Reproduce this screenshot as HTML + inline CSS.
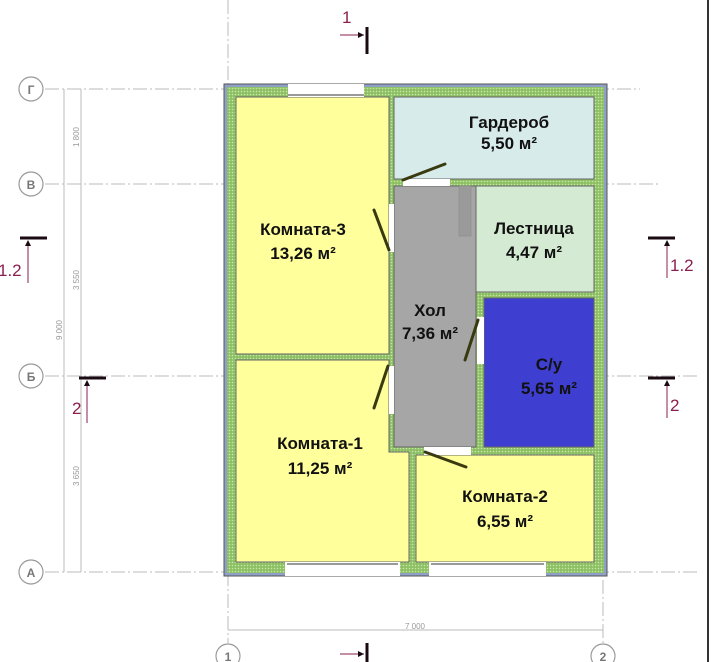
<!DOCTYPE html>
<html><head><meta charset="utf-8"><style>
html,body{margin:0;padding:0;background:#fff;}
svg{display:block}
text{font-family:"Liberation Sans","DejaVu Sans",sans-serif}
.lbl{font-weight:bold;font-size:17px;fill:#111;text-anchor:middle}
.dim{font-size:8px;fill:#999}
.sec{font-size:17px;fill:#8a1f4f}
.ax{font-size:12px;font-weight:bold;fill:#777;text-anchor:middle}
</style></head><body>
<svg width="713" height="662" viewBox="0 0 713 662" xmlns="http://www.w3.org/2000/svg">
<defs>
<pattern id="g" width="3" height="3" patternUnits="userSpaceOnUse">
<rect width="3" height="3" fill="#8cc063"/><circle cx="1.5" cy="1.5" r="0.8" fill="#c8e6a8"/>
</pattern>
</defs>
<g stroke="#bbb" stroke-width="1" stroke-dasharray="14,3,2,3" fill="none">
<line x1="45" y1="89" x2="640" y2="89"/>
<line x1="45" y1="184" x2="660" y2="184"/>
<line x1="45" y1="376" x2="700" y2="376"/>
<line x1="45" y1="572" x2="700" y2="572"/>
<line x1="228" y1="0" x2="228" y2="643"/>
<line x1="603" y1="580" x2="603" y2="643"/>
</g>
<g stroke="#bbb" stroke-width="1">
<line x1="64" y1="89" x2="64" y2="572"/>
<line x1="81" y1="89" x2="81" y2="572"/>
<line x1="228" y1="630" x2="603" y2="630"/>
</g>
<text class="dim" transform="translate(79,137) rotate(-90)" text-anchor="middle">1 800</text>
<text class="dim" transform="translate(79,280) rotate(-90)" text-anchor="middle">3 550</text>
<text class="dim" transform="translate(62,330) rotate(-90)" text-anchor="middle">9 000</text>
<text class="dim" transform="translate(79,476) rotate(-90)" text-anchor="middle">3 650</text>
<text class="dim" x="415" y="629" text-anchor="middle">7 000</text>
<g fill="#fff" stroke="#999" stroke-width="1.2">
<circle cx="31" cy="89" r="12"/><circle cx="31" cy="184" r="12"/>
<circle cx="31" cy="376" r="12"/><circle cx="31" cy="572" r="12"/>
<circle cx="228" cy="656" r="12"/><circle cx="603" cy="656" r="12"/>
</g>
<text class="ax" x="31" y="94">Г</text><text class="ax" x="31" y="189">В</text>
<text class="ax" x="31" y="381">Б</text><text class="ax" x="31" y="577">А</text>
<text class="ax" x="228" y="661">1</text><text class="ax" x="603" y="661">2</text>
<g stroke="#8a1f4f" stroke-width="1" fill="none">
<line x1="340" y1="35" x2="364" y2="35"/>
<line x1="28" y1="242" x2="28" y2="283"/>
<line x1="87" y1="382" x2="87" y2="423"/>
<line x1="667" y1="242" x2="667" y2="278"/>
<line x1="667" y1="382" x2="667" y2="418"/>
<line x1="340" y1="654" x2="364" y2="654"/>
</g>
<g fill="#1a0a12">
<polygon points="364,35 358,32 358,38"/>
<polygon points="28,240 25,246 31,246"/>
<polygon points="87,380 84,386 90,386"/>
<polygon points="667,240 664,246 670,246"/>
<polygon points="667,380 664,386 670,386"/>
<polygon points="364,654 358,651 358,657"/>
</g>
<g stroke="#1a0a12" stroke-width="3">
<line x1="367" y1="27" x2="367" y2="54"/>
<line x1="20" y1="238" x2="47" y2="238"/>
<line x1="79" y1="378" x2="106" y2="378"/>
<line x1="648" y1="238" x2="675" y2="238"/>
<line x1="648" y1="378" x2="675" y2="378"/>
<line x1="367" y1="643" x2="367" y2="662"/>
</g>
<text class="sec" x="342" y="23">1</text>
<text class="sec" x="-2" y="276">1.2</text>
<text class="sec" x="72" y="414">2</text>
<text class="sec" x="670" y="271">1.2</text>
<text class="sec" x="670" y="411">2</text>
<line x1="708" y1="0" x2="708" y2="662" stroke="#333" stroke-width="2"/>
<rect x="224" y="84" width="383" height="492" fill="#8ea0c8" stroke="#555" stroke-width="1"/>
<rect x="227" y="87" width="377" height="486" fill="url(#g)"/>
<g stroke="#666" stroke-width="1">
<rect x="236" y="97" width="153" height="257" fill="#ffff9c"/>
<rect x="394" y="97" width="200" height="82" fill="#d8ebeb"/>
<rect x="394" y="186" width="82" height="261" fill="#a6a6a6"/>
<rect x="476" y="186" width="118" height="106" fill="#d4ead2"/>
<rect x="484" y="298" width="110" height="149" fill="#3e3ed0"/>
<polygon points="236,360 389,360 389,452 409,452 409,562 236,562" fill="#ffff9c"/>
<rect x="416" y="455" width="178" height="107" fill="#ffff9c"/>
</g>
<rect x="459" y="186" width="12" height="50" fill="#9a9a9a" stroke="#888" stroke-width="0.5"/>
<g fill="#fff">
<rect x="288" y="84" width="76" height="13"/>
<rect x="285" y="562" width="115" height="14"/>
<rect x="429" y="562" width="117" height="14"/>
<rect x="403" y="179" width="47" height="7"/>
<rect x="389" y="204" width="5" height="48"/>
<rect x="389" y="366" width="5" height="48"/>
<rect x="477" y="317" width="7" height="47"/>
<rect x="424" y="447" width="47" height="8"/>
</g>
<g stroke="#333" stroke-width="1">
<line x1="288" y1="95" x2="364" y2="95"/>
<line x1="287" y1="564" x2="398" y2="564"/>
<line x1="431" y1="564" x2="544" y2="564"/>
</g>
<g stroke="#3a3a10" stroke-width="3" stroke-linecap="round">
<line x1="403" y1="180" x2="445" y2="164"/>
<line x1="374" y1="210" x2="389" y2="250"/>
<line x1="388" y1="366" x2="374" y2="408"/>
<line x1="465" y1="360" x2="478" y2="320"/>
<line x1="425" y1="452" x2="466" y2="467"/>
</g>
<text class="lbl" x="303" y="235">Комната-3</text>
<text class="lbl" x="303" y="259">13,26 м²</text>
<text class="lbl" x="509" y="128">Гардероб</text>
<text class="lbl" x="509" y="149">5,50 м²</text>
<text class="lbl" x="534" y="234">Лестница</text>
<text class="lbl" x="534" y="258">4,47 м²</text>
<text class="lbl" x="430" y="316">Хол</text>
<text class="lbl" x="430" y="339">7,36 м²</text>
<text class="lbl" x="549" y="370">С/у</text>
<text class="lbl" x="549" y="394">5,65 м²</text>
<text class="lbl" x="320" y="449">Комната-1</text>
<text class="lbl" x="320" y="474">11,25 м²</text>
<text class="lbl" x="505" y="502">Комната-2</text>
<text class="lbl" x="505" y="527">6,55 м²</text>
</svg>
</body></html>
